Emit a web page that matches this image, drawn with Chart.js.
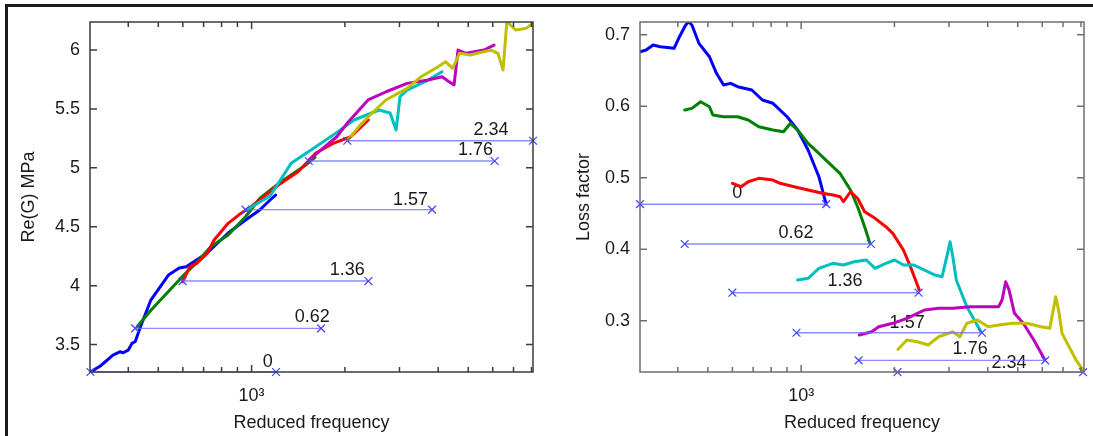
<!DOCTYPE html>
<html lang="en">
<head>
<meta charset="UTF-8">
<title>Re(G) and loss factor vs reduced frequency</title>
<script src="https://cdn.jsdelivr.net/npm/chart.js"></script>
<style>
  body { margin: 0; background: #fff; }
  #page { position: relative; width: 1093px; height: 436px; overflow: hidden; }
  #frame { position: absolute; left: 5px; top: 4px; right: -10px; bottom: -10px;
           border-top: 3px solid #1a1a1a; border-left: 3px solid #1a1a1a; }
  canvas { position: absolute; top: 0; }
</style>
</head>
<body>
<div id="page">
  <div id="frame"></div>
  <canvas id="modulusChart" width="546" height="436" style="left:0"></canvas>
  <canvas id="lossChart" width="547" height="436" style="left:546px"></canvas>
</div>
<script>
// shift values written next to each horizontal shift segment
const shiftNames = ['0', '0.62', '1.36', '1.57', '1.76', '2.34'];
const curveColors = ['#0000ff', '#008000', '#ff0000', '#00bfbf', '#bf00bf', '#bfbf00'];
const xTickMarks = [400, 500, 600, 700, 800, 900, 1000, 2000, 3000, 4000, 5000, 6000, 7000, 8000];
const xTickLabels = { 1000: '10³' };
const modYTicks = [3.5, 4, 4.5, 5, 5.5, 6];
const lossYTicks = [0.3, 0.4, 0.5, 0.6, 0.7];

// Re(G) [MPa] curves: [reduced frequency, value]
const modBlue = [[302,3.267],[325,3.318],[357,3.411],[377,3.439],[385,3.430],[400,3.453],[412,3.513],[421,3.524],[438,3.651],[473,3.878],[539,4.090],[584,4.149],[615,4.160],[719,4.277],[840,4.447],[956,4.557],[1062,4.642],[1147,4.727],[1195,4.769]];
const modGreen = [[427,3.651],[474,3.793],[538,3.948],[597,4.076],[663,4.192],[738,4.330],[840,4.430],[956,4.585],[1062,4.74],[1241,4.88],[1488,5.02],[1602,5.09]];
const modRed = [[599,4.033],[631,4.160],[665,4.189],[719,4.274],[757,4.387],[840,4.529],[908,4.599],[995,4.670],[1241,4.868],[1413,4.967],[1611,5.126],[1832,5.208],[2090,5.264],[2382,5.406]];
const modCyan = [[960,4.642],[1147,4.761],[1341,5.038],[1611,5.179],[1832,5.278],[2141,5.406],[2578,5.491],[2798,5.465],[2925,5.321],[3013,5.604],[3174,5.660],[3709,5.745],[4116,5.816]];
const modMagenta = [[1529,5.066],[1883,5.264],[2033,5.378],[2376,5.576],[2718,5.646],[3174,5.717],[3709,5.745],[4116,5.773],[4337,5.731],[4500,5.703],[4636,6.000],[4920,5.972],[5623,6.000],[6057,6.042]];
const modOlive = [[2036,5.230],[2239,5.363],[2443,5.463],[2712,5.576],[3174,5.675],[3522,5.773],[3997,5.858],[4225,5.901],[4451,5.845],[4688,5.972],[5068,5.958],[5925,6.000],[6237,5.972],[6476,5.830],[6662,6.24],[7112,6.170],[7683,6.184],[8090,6.227]];

// shift segments for Re(G)
const modShiftLevel = [3.267, 3.637, 4.039, 4.645, 5.058, 5.230];
const modShiftStart = [302, 421, 599, 956, 1529, 2036];
const modShiftEnd = [1199, 1676, 2382, 3822, 6083, 8090];
const modLabelF = [1127, 1569, 2036, 3255, 5275, 5925];
const modLabelV = [3.349, 3.736, 4.132, 4.727, 5.151, 5.321];

// loss factor curves
const lossBlue = [[302,0.6762],[316,0.6786],[333,0.6856],[351,0.6832],[389,0.681],[405,0.6972],[421,0.7112],[432,0.7182],[444,0.7136],[468,0.688],[506,0.6692],[533,0.646],[562,0.6297],[592,0.632],[624,0.6273],[693,0.6227],[750,0.6087],[811,0.6041],[901,0.5853],[974,0.5667],[1053,0.5388],[1141,0.5014],[1204,0.463]];
const lossGreen = [[421,0.5947],[444,0.597],[474,0.6063],[506,0.5993],[519,0.5877],[562,0.5853],[624,0.5853],[675,0.5807],[730,0.5713],[811,0.5667],[877,0.5643],[924,0.5761],[974,0.5667],[1053,0.5481],[1141,0.5341],[1233,0.5201],[1334,0.5062],[1443,0.4828],[1521,0.4594],[1603,0.4315],[1667,0.4082]];
const lossRed = [[600,0.4922],[640,0.4874],[675,0.4944],[730,0.4992],[811,0.4968],[855,0.4922],[949,0.4874],[1053,0.4828],[1171,0.4782],[1266,0.4758],[1336,0.4734],[1369,0.4664],[1443,0.4804],[1521,0.4712],[1603,0.4524],[1732,0.4432],[1876,0.4315],[1976,0.4222],[2138,0.3989],[2253,0.3755],[2406,0.3429]];
const lossCyan = [[974,0.3569],[1053,0.3593],[1141,0.3733],[1266,0.3803],[1369,0.3779],[1483,0.3825],[1624,0.3849],[1732,0.3733],[1876,0.3803],[2003,0.3849],[2138,0.3779],[2313,0.3779],[2502,0.3709],[2706,0.3639],[2850,0.3615],[2968,0.3943],[3024,0.4105],[3087,0.3895],[3167,0.3569],[3425,0.3196],[3804,0.2846]];
const lossMagenta = [[1540,0.28],[1689,0.2846],[1780,0.2916],[1976,0.2964],[2194,0.3034],[2374,0.3104],[2502,0.315],[2779,0.3173],[3087,0.3173],[3517,0.3196],[3905,0.3196],[4337,0.3196],[4451,0.329],[4571,0.3545],[4688,0.3429],[4880,0.3104],[5209,0.2964],[5636,0.273],[6099,0.246]];
const lossOlive = [[2055,0.26],[2194,0.273],[2374,0.2706],[2569,0.266],[2779,0.2776],[3087,0.2846],[3253,0.2776],[3425,0.2964],[3707,0.301],[4011,0.2916],[4337,0.294],[4818,0.2964],[5351,0.2964],[5941,0.2916],[6343,0.2894],[6509,0.315],[6632,0.3336],[6771,0.315],[6950,0.2824],[7319,0.2636],[7713,0.245],[8124,0.231]];

// shift segments for loss factor
const lossShiftLevel = [0.463, 0.4073, 0.3392, 0.2832, 0.2446, 0.228];
const lossShiftStart = [302, 421, 600, 966, 1533, 2046];
const lossShiftEnd = [1204, 1680, 2394, 3835, 6130, 8124];
const lossLabelF = [622, 963, 1386, 2198, 3510, 4688];
const lossLabelV = [0.4786, 0.4227, 0.3555, 0.2972, 0.2604, 0.2413];

Chart.defaults.font.family = '"Liberation Sans", Arial, Helvetica, sans-serif';
Chart.defaults.font.size = 18;
Chart.defaults.color = '#1a1a1a';

// gnuplot-like frame: box, inward ticks on all sides, and the shift labels
const gnuplotFrame = {
  id: 'gnuplotFrame',
  beforeDatasetsDraw(chart, args, opts) {
    const { ctx, scales: { x, y } } = chart;
    ctx.save();
    ctx.fillStyle = '#1a1a1a';
    ctx.font = '18px "Liberation Sans", Arial, sans-serif';
    ctx.textAlign = 'center';
    ctx.textBaseline = 'middle';
    opts.labelF.forEach((f, i) => {
      ctx.fillText(shiftNames[i], x.getPixelForValue(f), y.getPixelForValue(opts.labelV[i]));
    });
    ctx.restore();
  },
  afterDatasetsDraw(chart, args, opts) {
    const { ctx, chartArea: a, scales: { x, y } } = chart;
    ctx.save();
    ctx.strokeStyle = opts.axisColor;
    ctx.lineWidth = 1.5;
    ctx.strokeRect(a.left, a.top, a.right - a.left, a.bottom - a.top);
    ctx.beginPath();
    xTickMarks.forEach(v => {
      const px = x.getPixelForValue(v);
      if (px > a.right - 1) return;
      const len = v === 1000 ? 7 : 5;
      ctx.moveTo(px, a.bottom); ctx.lineTo(px, a.bottom - len);
      ctx.moveTo(px, a.top); ctx.lineTo(px, a.top + len);
    });
    y.ticks.forEach(t => {
      const py = y.getPixelForValue(t.value);
      ctx.moveTo(a.left, py); ctx.lineTo(a.left + 7, py);
      ctx.moveTo(a.right, py); ctx.lineTo(a.right - 7, py);
    });
    ctx.stroke();
    ctx.restore();
  }
};

function curveSet(points, color, order) {
  return {
    data: points.map(p => ({ x: p[0], y: p[1] })),
    borderColor: color,
    borderWidth: 3,
    borderJoinStyle: 'round',
    borderCapStyle: 'round',
    pointRadius: 0,
    tension: 0,
    order: order
  };
}

function shiftSets(starts, ends, levels) {
  return levels.map((lv, i) => ({
    data: [{ x: starts[i], y: lv }, { x: ends[i], y: lv }],
    borderColor: 'rgba(110,110,255,0.8)',
    borderWidth: 1.4,
    pointStyle: 'crossRot',
    pointRadius: 5.5,
    pointBorderColor: '#4848ff',
    pointBorderWidth: 1.3,
    clip: false,
    order: 0
  }));
}

function makeChart(id, cfg) {
  const curves = cfg.curves.map((c, i) => curveSet(c, curveColors[i], 6 - i));
  return new Chart(document.getElementById(id), {
    type: 'line',
    data: { datasets: curves.concat(shiftSets(cfg.shiftStart, cfg.shiftEnd, cfg.shiftLevel)) },
    options: {
      responsive: false,
      animation: false,
      events: [],
      layout: { padding: { left: 0, right: cfg.padRight, top: 22, bottom: 0 } },
      plugins: {
        legend: { display: false },
        tooltip: { enabled: false },
        gnuplotFrame: { labelF: cfg.labelF, labelV: cfg.labelV, axisColor: cfg.axisColor }
      },
      scales: {
        x: {
          type: 'logarithmic',
          min: cfg.xMin,
          max: cfg.xMax,
          grid: { display: false, drawTicks: false },
          border: { display: false },
          afterBuildTicks: s => { s.ticks = [{ value: 1000 }]; },
          afterFit: s => { s.height = 64; },
          ticks: { padding: 13, maxRotation: 0, autoSkip: false, callback: v => xTickLabels[v] || '' },
          title: { display: true, text: 'Reduced frequency', padding: { top: 0, bottom: 2 } }
        },
        y: {
          min: cfg.yMin,
          max: cfg.yMax,
          grid: { display: false, drawTicks: false },
          border: { display: false },
          afterBuildTicks: s => { s.ticks = cfg.yTicks.map(v => ({ value: v })); },
          afterFit: s => { s.width = cfg.yWidth; },
          ticks: { padding: 10, callback: v => String(v) },
          title: { display: true, text: cfg.yTitle, padding: { top: cfg.titlePad, bottom: 0 } }
        }
      }
    },
    plugins: [gnuplotFrame]
  });
}

makeChart('modulusChart', {
  curves: [modBlue, modGreen, modRed, modCyan, modMagenta, modOlive],
  shiftStart: modShiftStart, shiftEnd: modShiftEnd, shiftLevel: modShiftLevel,
  labelF: modLabelF, labelV: modLabelV,
  xMin: 301, xMax: 8090, yMin: 3.267, yMax: 6.238, yTicks: modYTicks,
  yTitle: 'Re(G) MPa', yWidth: 90, padRight: 13, titlePad: 18, axisColor: '#3c3c3c'
});

makeChart('lossChart', {
  curves: [lossBlue, lossGreen, lossRed, lossCyan, lossMagenta, lossOlive],
  shiftStart: lossShiftStart, shiftEnd: lossShiftEnd, shiftLevel: lossShiftLevel,
  labelF: lossLabelF, labelV: lossLabelV,
  xMin: 302, xMax: 8180, yMin: 0.2283, yMax: 0.7178, yTicks: lossYTicks,
  yTitle: 'Loss factor', yWidth: 94, padRight: 9, titlePad: 27, axisColor: '#6e6e6e'
});
</script>
</body>
</html>
